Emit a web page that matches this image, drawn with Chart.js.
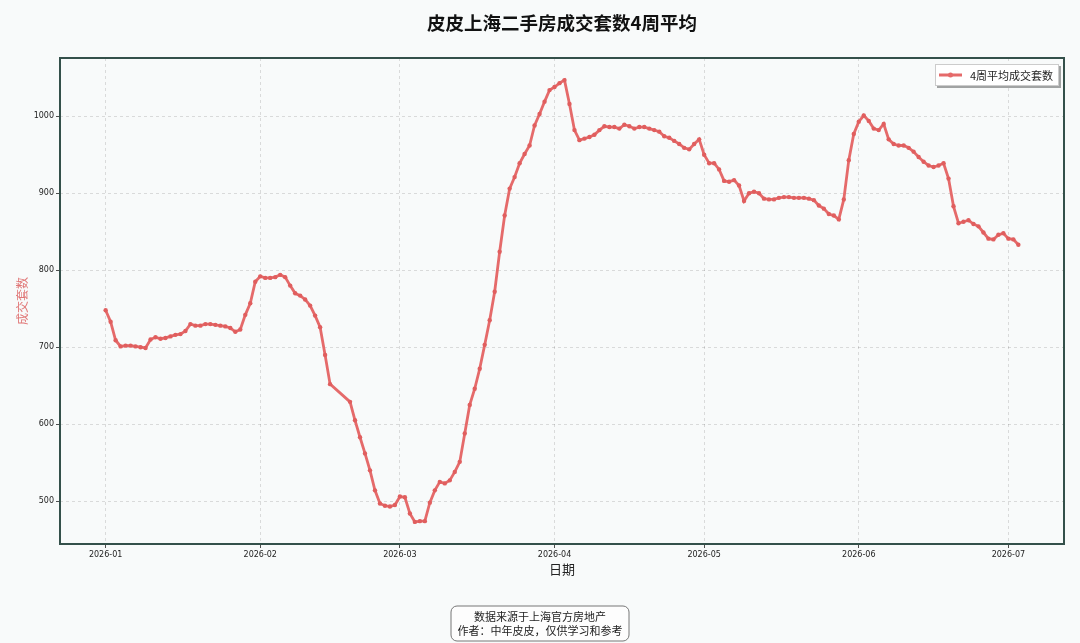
<!DOCTYPE html>
<html>
<head>
<meta charset="utf-8">
<script src="https://cdn.jsdelivr.net/npm/chart.js@4.4.1/dist/chart.umd.min.js"></script>
<style>
    body { margin: 0; background: #f8fafa; }
    canvas { display: block; }
</style>
</head>
<body>
<canvas id="chart" width="1080" height="643"></canvas>
<script>
// data, one value per day (spring festival days missing)
const startDate = '2026-01-01';
const skippedDates = ['2026-02-16', '2026-02-17', '2026-02-18'];
const avgDeals = [
    748, 733, 709, 701, 702, 702, 701, 700, 699, 710,
    713, 711, 712, 714, 716, 717, 721, 730, 728, 728,
    730, 730, 729, 728, 727, 725, 720, 723, 742, 757,
    785, 792, 790, 790, 791, 794, 791, 780, 770, 767,
    762, 754, 741, 726, 690, 652,
    629, 605, 583, 562, 540, 514, 497, 494, 493, 495,
    506, 505, 484, 473, 474, 474, 498, 514, 525, 523,
    527, 538, 551, 588, 625, 646, 672, 703, 735, 772,
    824, 871, 906, 921, 939, 951, 962, 988, 1003, 1019,
    1034, 1038, 1043, 1047, 1016, 982, 969, 971, 973, 976,
    982, 987, 986, 986, 984, 989, 987, 984, 986, 986,
    984, 982, 980, 974, 972, 968, 964, 959, 957, 964,
    970, 950, 939, 939, 931, 916, 915, 917, 910, 890,
    900, 902, 900, 893, 892, 892, 894, 895, 895, 894,
    894, 894, 893, 891, 884, 880, 873, 871, 866, 892,
    943, 977, 993, 1001, 994, 984, 982, 990, 970, 964,
    962, 962, 959, 954, 947, 941, 936, 934, 936, 939,
    919, 883, 861, 863, 865, 860, 857, 849, 841, 840,
    846, 848, 841, 840, 833
];
const monthTicks = ['2026-01', '2026-02', '2026-03', '2026-04', '2026-05', '2026-06', '2026-07'];
const yTicks = [500, 600, 700, 800, 900, 1000];

const DAY = 86400000;
const lineColor = '#e56a6a';
const gridColor = 'rgba(0,0,0,0.16)';
const cjk = '"Noto Sans CJK SC", "Noto Sans", sans-serif';

const dates = [];
let t = Date.parse(startDate);
while (dates.length < avgDeals.length) {
    const s = new Date(t).toISOString().slice(0, 10);
    if (!skippedDates.includes(s)) dates.push(t);
    t += DAY;
}
const points = dates.map((d, i) => ({ x: d, y: avgDeals[i] }));

// matplotlib style 5% margins
const xSpan = dates[dates.length - 1] - dates[0];
const xMin = dates[0] - xSpan * 0.05;
const xMax = dates[dates.length - 1] + xSpan * 0.05;
const yLo = Math.min(...avgDeals);
const yHi = Math.max(...avgDeals);
const yMin = yLo - (yHi - yLo) * 0.05;
const yMax = yHi + (yHi - yLo) * 0.05;

const decorations = {
    id: 'decorations',
    beforeDraw(chart) {
        const c = chart.ctx;
        c.save();
        c.fillStyle = '#f8fafa';
        c.fillRect(0, 0, chart.width, chart.height);
        c.restore();
    },
    afterDraw(chart) {
        const c = chart.ctx;
        const a = chart.chartArea;
        c.save();

        // frame
        c.strokeStyle = '#34504a';
        c.lineWidth = 2;
        c.strokeRect(a.left, a.top, a.right - a.left, a.bottom - a.top);

        // title
        c.fillStyle = '#111';
        c.font = 'bold 18.5px ' + cjk;
        c.textAlign = 'center';
        c.textBaseline = 'middle';
        c.fillText('皮皮上海二手房成交套数4周平均', 562, 23);

        // axis titles
        c.font = '13px ' + cjk;
        c.fillStyle = '#222';
        c.fillText('日期', (a.left + a.right) / 2, 569);
        c.save();
        c.translate(22, (a.top + a.bottom) / 2);
        c.rotate(-Math.PI / 2);
        c.fillStyle = '#e07676';
        c.font = '12px ' + cjk;
        c.fillText('成交套数', 0, 0);
        c.restore();

        // legend
        const lx = 935, ly = 64, lw = 124, lh = 22;
        c.fillStyle = 'rgba(0,0,0,0.35)';
        c.fillRect(lx + 2, ly + 2, lw, lh);
        c.fillStyle = '#fff';
        c.fillRect(lx, ly, lw, lh);
        c.strokeStyle = '#ccc';
        c.lineWidth = 1;
        c.strokeRect(lx + 0.5, ly + 0.5, lw - 1, lh - 1);
        c.strokeStyle = lineColor;
        c.lineWidth = 3;
        c.beginPath();
        c.moveTo(lx + 4, ly + lh / 2);
        c.lineTo(lx + 27, ly + lh / 2);
        c.stroke();
        c.fillStyle = lineColor;
        c.beginPath();
        c.arc(lx + 15.5, ly + lh / 2, 2.5, 0, Math.PI * 2);
        c.fill();
        c.fillStyle = '#222';
        c.font = '11px ' + cjk;
        c.textAlign = 'left';
        c.fillText('4周平均成交套数', lx + 35, ly + lh / 2 + 0.5);

        // footer note
        const fx = 451, fy = 606, fw = 178, fh = 35;
        c.beginPath();
        c.roundRect(fx, fy, fw, fh, 6);
        c.fillStyle = '#fdfdfd';
        c.fill();
        c.strokeStyle = '#777';
        c.lineWidth = 1;
        c.stroke();
        c.fillStyle = '#222';
        c.font = '11px ' + cjk;
        c.textAlign = 'center';
        c.fillText('数据来源于上海官方房地产', fx + fw / 2, fy + 11);
        c.fillText('作者：中年皮皮，仅供学习和参考', fx + fw / 2, fy + 25);

        c.restore();
    }
};

new Chart(document.getElementById('chart'), {
    type: 'line',
    data: {
        datasets: [
            {
                label: '4周平均成交套数',
                data: points,
                borderColor: lineColor,
                backgroundColor: lineColor,
                borderWidth: 2.8,
                pointRadius: 2.2,
                pointBorderWidth: 0,
                pointBackgroundColor: '#e05e5e',
                tension: 0,
            },
        ],
    },
    options: {
        responsive: false,
        animation: false,
        devicePixelRatio: 1,
        layout: { padding: { left: 0, right: 16, top: 58, bottom: 0 } },
        plugins: {
            legend: { display: false },
            title: { display: false },
            tooltip: { enabled: false },
        },
        scales: {
            x: {
                type: 'linear',
                min: xMin,
                max: xMax,
                afterBuildTicks: (scale) => {
                    scale.ticks = monthTicks.map((m) => ({ value: Date.parse(m + '-01') }));
                },
                afterFit: (scale) => {
                    scale.height = 99;
                },
                ticks: {
                    color: '#222',
                    font: { family: 'DejaVu Sans', size: 8 },
                    padding: 2,
                    maxRotation: 0,
                    callback: (v) => new Date(v).toISOString().slice(0, 7),
                },
                grid: {
                    color: gridColor,
                    lineWidth: 0.8,
                    tickColor: '#222',
                    tickLength: 4,
                    tickBorderDash: [],
                },
                border: { display: false, dash: [3, 3] },
            },
            y: {
                min: yMin,
                max: yMax,
                afterBuildTicks: (scale) => {
                    scale.ticks = yTicks.map((v) => ({ value: v }));
                },
                afterFit: (scale) => {
                    scale.width = 60;
                },
                ticks: {
                    color: '#222',
                    font: { family: 'DejaVu Sans', size: 8 },
                    padding: 2,
                    callback: (v) => String(v),
                },
                grid: {
                    color: gridColor,
                    lineWidth: 0.8,
                    tickColor: '#222',
                    tickLength: 4,
                    tickBorderDash: [],
                },
                border: { display: false, dash: [3, 3] },
            },
        },
    },
    plugins: [decorations],
});
</script>
</body>
</html>
